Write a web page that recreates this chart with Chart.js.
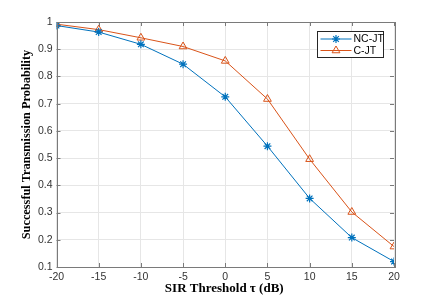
<!DOCTYPE html>
<html><head><meta charset="utf-8">
<script src="https://cdn.jsdelivr.net/npm/chart.js@4/dist/chart.umd.min.js"></script>
<style>html,body{margin:0;padding:0;background:#fff}#w{width:436px;height:300px}</style>
</head><body><div id="w"><canvas id="c" width="436" height="300"></canvas></div>
<script>
const sirThreshold = [-20, -15, -10, -5, 0, 5, 10, 15, 20];
const ncjt = [0.987, 0.963, 0.918, 0.845, 0.725, 0.544, 0.352, 0.208, 0.12];
const cjt  = [0.992, 0.972, 0.942, 0.910, 0.857, 0.717, 0.496, 0.302, 0.175];
const seriesNames = ['NC-JT', 'C-JT'];
const xTitle = 'SIR Threshold τ (dB)';
const yTitle = 'Successful Transmission Probability';

const BLUE = '#0072BD', ORANGE = '#D95319';
const AX = '#333333';
const tickFont = {family: '"Liberation Sans", Arial, sans-serif', size: 10.5};

function toXY(xs, ys){ return xs.map((x,i)=>({x:x, y:ys[i]})); }

const frame = {
  id: 'frame',
  afterDraw(chart){
    const {ctx, chartArea:a, scales:{x, y}} = chart;
    ctx.save();
    ctx.strokeStyle = '#7a7a7a';
    ctx.lineWidth = 1;
    ctx.strokeRect(Math.round(a.left)+0.5, Math.round(a.top)+0.5, Math.round(a.right-a.left), Math.round(a.bottom-a.top));
    ctx.beginPath();
    const tl = 4;
    x.ticks.forEach(t => {
      const px = Math.round(x.getPixelForValue(t.value))+0.5;
      ctx.moveTo(px, a.bottom); ctx.lineTo(px, a.bottom - tl);
      ctx.moveTo(px, a.top); ctx.lineTo(px, a.top + tl);
    });
    y.ticks.forEach(t => {
      const py = Math.round(y.getPixelForValue(t.value))+0.5;
      ctx.moveTo(a.left, py); ctx.lineTo(a.left + tl, py);
      ctx.moveTo(a.right, py); ctx.lineTo(a.right - tl, py);
    });
    ctx.stroke();
    // titles
    ctx.fillStyle = '#000';
    ctx.textAlign = 'center'; ctx.textBaseline = 'middle';
    ctx.font = 'bold 13px "Liberation Serif", "DejaVu Serif", serif';
    ctx.fillText(xTitle, (a.left+a.right)/2 - 1, 289);
    ctx.save();
    ctx.font = 'bold 12.3px "Liberation Serif", "DejaVu Serif", serif';
    ctx.translate(27, (a.top+a.bottom)/2);
    ctx.rotate(-Math.PI/2);
    ctx.fillText(yTitle, 0, 0);
    ctx.restore();
    // legend
    const lx = 317.5, ly = 31.5, lw = 66, lh = 26;
    ctx.fillStyle = '#fff';
    ctx.fillRect(lx, ly, lw, lh);
    ctx.strokeStyle = '#262626';
    ctx.lineWidth = 1;
    ctx.strokeRect(lx, ly, lw, lh);
    const ds = chart.data.datasets;
    ds.forEach((d, i) => {
      const yy = ly + 7.5 + i*11.5;
      ctx.strokeStyle = d.borderColor; ctx.lineWidth = 1;
      ctx.beginPath(); ctx.moveTo(lx+3, yy); ctx.lineTo(lx+34, yy); ctx.stroke();
      ctx.fillStyle = 'rgba(0,0,0,0)';
      ctx.strokeStyle = d.borderColor;
      ctx.lineWidth = d.pointBorderWidth;
      Chart.helpers.drawPoint(ctx, {pointStyle: d.pointStyle, radius: d.pointRadius, borderWidth: d.pointBorderWidth, rotation: 0}, lx+18.5, yy);
      ctx.fillStyle = '#000';
      ctx.font = '10.5px "Liberation Sans", Arial, sans-serif';
      ctx.textAlign = 'left'; ctx.textBaseline = 'middle';
      ctx.fillText(seriesNames[i], lx+36, yy+0.5);
    });
    ctx.restore();
  }
};

new Chart(document.getElementById('c'), {
  type: 'line',
  data: {
    datasets: [
      {label: seriesNames[0], data: toXY(sirThreshold, ncjt), borderColor: BLUE, backgroundColor: BLUE,
       borderWidth: 1, pointStyle: 'star', pointRadius: 4, pointBorderWidth: 1.2, pointBorderColor: BLUE, tension: 0},
      {label: seriesNames[1], data: toXY(sirThreshold, cjt), borderColor: ORANGE, backgroundColor: 'rgba(0,0,0,0)',
       borderWidth: 1, pointStyle: 'triangle', pointRadius: 4.5, pointBorderWidth: 1, pointBorderColor: ORANGE,
       pointBackgroundColor: 'rgba(0,0,0,0)', tension: 0}
    ]
  },
  options: {
    responsive: false, animation: false,
    layout: {padding: {left: 0, right: 42, top: 22, bottom: 0}},
    plugins: {legend: {display: false}, tooltip: {enabled: false}},
    scales: {
      x: {type: 'linear', min: -20, max: 20,
          ticks: {stepSize: 5, font: tickFont, color: AX, padding: 4, maxRotation: 0},
          grid: {color: '#e6e6e6', drawTicks: false}, border: {display: false},
          afterFit(s){ s.height = 33; }},
      y: {min: 0.1, max: 1,
          ticks: {stepSize: 0.1, font: tickFont, color: AX, padding: 4,
                  callback: v => (Math.round(v*10)/10).toString()},
          grid: {color: '#e6e6e6', drawTicks: false}, border: {display: false},
          afterFit(s){ s.width = 56.5; }}
    }
  },
  plugins: [frame]
});
</script></body></html>
